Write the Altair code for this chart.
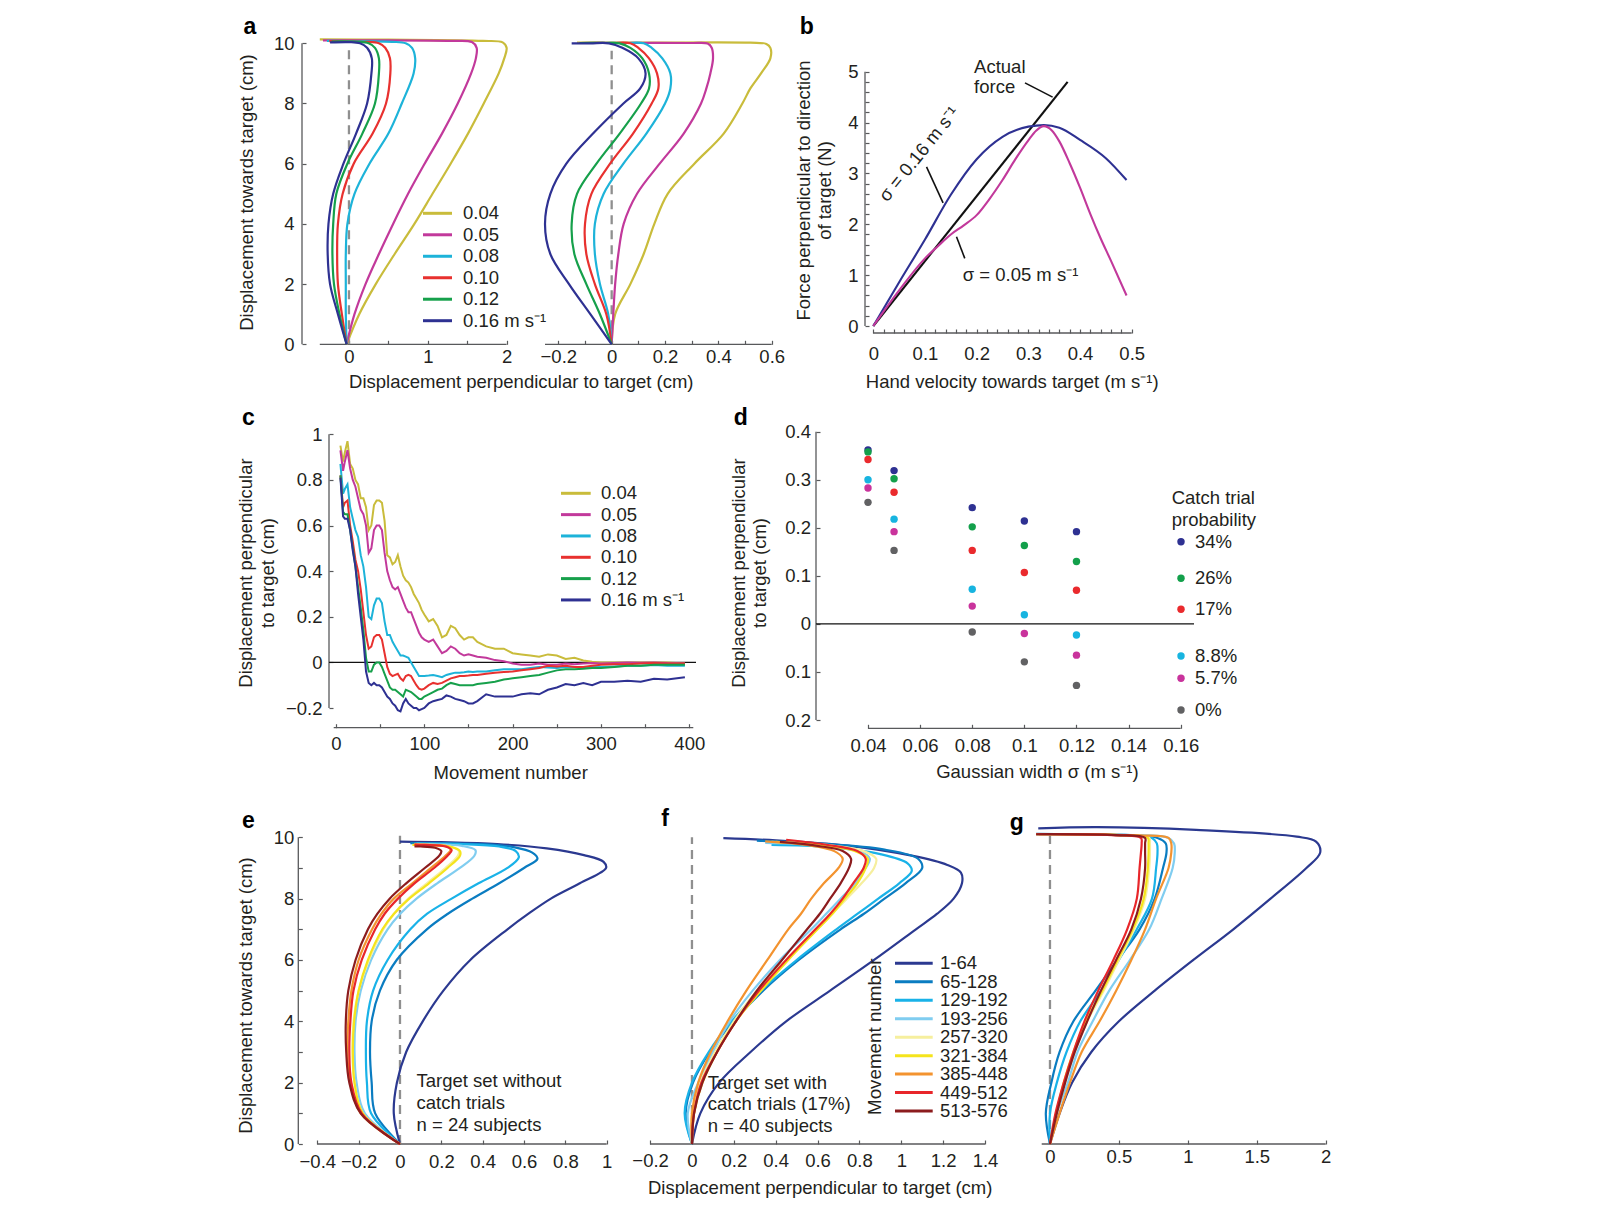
import altair as alt
import pandas as pd

FONT = "Liberation Sans"
INK = "#231f20"
AXC = "#58595b"
DASH = "#8f8f8f"
FS = 18.5
TS = 4
W, H = 1560, 1200
M = 8


def c(v):
    return round(v - M, 2)


# ------------------------------------------------------------------ data
# panel a
A_SERIES = ["0.04", "0.05", "0.08", "0.10", "0.12", "0.16"]
A_LEGEND = ["0.04", "0.05", "0.08", "0.10", "0.12", "0.16 m s⁻¹"]
A_COLORS = ["#c9bc3b", "#c2399b", "#1db3d9", "#e8312f", "#16a04b", "#2e3192"]

AL_LEVELS = [0, 1, 2, 3, 4, 5, 6, 7, 8, 9, 9.5, 9.85]
AL_X = {
    "0.04": [-0.03, 0.13, 0.34, 0.58, 0.83, 1.06, 1.29, 1.51, 1.71, 1.9, 1.97, 2.0],
    "0.05": [-0.03, 0.07, 0.21, 0.38, 0.56, 0.75, 0.96, 1.18, 1.38, 1.55, 1.61, 1.62],
    "0.08": [-0.03, -0.04, -0.04, -0.04, -0.02, 0.07, 0.26, 0.5, 0.67, 0.82, 0.84, 0.8],
    "0.10": [-0.03, -0.09, -0.14, -0.15, -0.14, -0.08, 0.06, 0.3, 0.47, 0.525, 0.52, 0.46],
    "0.12": [-0.03, -0.12, -0.19, -0.21, -0.2, -0.16, -0.02, 0.17, 0.33, 0.38, 0.38, 0.33],
    "0.16": [-0.03, -0.14, -0.24, -0.27, -0.26, -0.2, -0.07, 0.09, 0.23, 0.285, 0.29, 0.23],
}
AL_TOP = {
    "0.04": [(1.95, 10.03), (1.7, 10.08), (0.5, 10.12), (-0.37, 10.13)],
    "0.05": [(1.56, 10.04), (1.3, 10.08), (0.3, 10.1), (-0.33, 10.1)],
    "0.08": [(0.72, 10.0), (0.55, 10.05), (0.2, 10.07), (-0.28, 10.08)],
    "0.10": [(0.38, 10.0), (0.22, 10.05), (0.0, 10.06), (-0.25, 10.07)],
    "0.12": [(0.25, 10.0), (0.1, 10.05), (-0.22, 10.06)],
    "0.16": [(0.14, 10.0), (0.0, 10.04), (-0.24, 10.03)],
}

AR_LEVELS = [0, 1, 2, 3, 4, 5, 6, 7, 8, 8.5, 9, 9.5, 9.85]
AR_X = {
    "0.04": [0, 0.013, 0.07, 0.12, 0.16, 0.21, 0.31, 0.42, 0.49, 0.52, 0.56, 0.595, 0.595],
    "0.05": [0, 0.006, 0.013, 0.025, 0.045, 0.095, 0.18, 0.27, 0.335, 0.355, 0.37, 0.38, 0.375],
    "0.08": [0, -0.013, -0.044, -0.063, -0.063, -0.03, 0.044, 0.13, 0.2, 0.22, 0.22, 0.19, 0.15],
    "0.10": [0, -0.02, -0.063, -0.095, -0.1, -0.076, -0.006, 0.08, 0.15, 0.175, 0.17, 0.14, 0.1],
    "0.12": [0, -0.044, -0.095, -0.14, -0.15, -0.13, -0.057, 0.03, 0.11, 0.14, 0.14, 0.115, 0.07],
    "0.16": [0, -0.08, -0.16, -0.23, -0.25, -0.23, -0.17, -0.07, 0.044, 0.107, 0.127, 0.1, 0.04],
}
AR_TOP = {
    "0.04": [(0.58, 9.98), (0.52, 10.02), (0.1, 10.02), (-0.13, 10.02)],
    "0.05": [(0.36, 9.99), (0.3, 10.01), (-0.1, 10.01)],
    "0.08": [(0.12, 10.0), (0.05, 10.01), (-0.12, 10.01)],
    "0.10": [(0.07, 10.0), (0.0, 10.01), (-0.12, 10.01)],
    "0.12": [(0.03, 10.0), (-0.02, 10.01), (-0.12, 10.01)],
    "0.16": [(-0.01, 10.0), (-0.08, 10.0), (-0.15, 10.0)],
}

# panel b
B_V_16 = [0, 0.05, 0.1, 0.15, 0.2, 0.25, 0.3, 0.33, 0.36, 0.4, 0.45, 0.49]
B_F_16 = [0, 0.86, 1.7, 2.58, 3.28, 3.72, 3.92, 3.95, 3.9, 3.66, 3.3, 2.87]
B_V_05 = [0, 0.05, 0.1, 0.125, 0.15, 0.175, 0.2, 0.225, 0.25, 0.275, 0.3, 0.315,
          0.33, 0.345, 0.36, 0.38, 0.4, 0.42, 0.44, 0.46, 0.49]
B_F_05 = [0, 0.7, 1.33, 1.57, 1.8, 1.98, 2.18, 2.5, 2.87, 3.28, 3.65, 3.84,
          3.93, 3.85, 3.63, 3.2, 2.72, 2.2, 1.72, 1.28, 0.6]
B_V_ACT = [0, 0.376]
B_F_ACT = [0, 4.8]

# panel c
C_X = [5, 8, 10, 13, 16, 19, 22, 25, 28, 31, 34, 37, 40, 43, 46, 49, 52, 55, 58, 61, 64, 67,
       70, 73, 76, 79, 82, 85, 88, 91, 94, 97, 100,
       105, 110, 115, 120, 125, 130, 135, 140, 145, 150, 155, 160,
       170, 180, 190, 200, 210, 220, 230, 240, 250, 260, 270, 280, 290, 300,
       315, 330, 345, 360, 375, 395]
C_Y = {
    "0.04": [0.95, 0.88, 0.92, 0.97, 0.87, 0.85, 0.8, 0.78, 0.72, 0.72, 0.68, 0.58, 0.6, 0.69,
             0.71, 0.71, 0.7, 0.62, 0.47, 0.46, 0.43, 0.44, 0.47, 0.42, 0.38, 0.36, 0.35, 0.33,
             0.3, 0.28, 0.26, 0.23, 0.21,
             0.18, 0.19, 0.16, 0.11, 0.12, 0.16, 0.15, 0.12, 0.1, 0.11, 0.11, 0.09,
             0.07, 0.06, 0.06, 0.04, 0.035, 0.03, 0.025, 0.035, 0.03, 0.015, 0.02, 0.008, 0.003, 0.0,
             0.0, 0.0, 0.0, 0.0, 0.0, -0.005],
    "0.05": [0.93, 0.84, 0.88, 0.93, 0.85, 0.8, 0.77, 0.72, 0.67, 0.65, 0.6, 0.48, 0.5, 0.58,
             0.6, 0.6, 0.58, 0.48, 0.4, 0.36, 0.33, 0.32, 0.33, 0.3, 0.27, 0.24, 0.22, 0.22,
             0.19, 0.16, 0.13, 0.11, 0.1,
             0.09, 0.1, 0.07, 0.04, 0.05, 0.07, 0.06, 0.04, 0.03, 0.035, 0.03, 0.025,
             0.02, 0.01, 0.005, -0.005, -0.01, -0.01, -0.005, -0.01, -0.01, -0.005, -0.008, -0.005, -0.003, -0.005,
             -0.003, 0.0, -0.002, 0.0, -0.003, -0.005],
    "0.08": [0.87, 0.74, 0.76, 0.78, 0.68, 0.63, 0.58, 0.55, 0.47, 0.42, 0.33, 0.2, 0.19, 0.25,
             0.28, 0.28, 0.26, 0.18, 0.12, 0.12, 0.09, 0.07, 0.05, 0.03, 0.03, 0.025, 0.02, 0.0,
             -0.02, -0.04, -0.06, -0.06, -0.06,
             -0.058, -0.055, -0.06, -0.065, -0.055, -0.05, -0.045, -0.045, -0.043, -0.04, -0.042, -0.04,
             -0.04, -0.035, -0.03, -0.03, -0.03, -0.025, -0.02, -0.022, -0.025, -0.02, -0.02, -0.022, -0.02, -0.02,
             -0.018, -0.015, -0.015, -0.012, -0.015, -0.015],
    "0.10": [0.82, 0.68, 0.7, 0.71, 0.6, 0.53, 0.45, 0.4, 0.32, 0.22, 0.12, 0.06, 0.07, 0.11,
             0.12, 0.12, 0.1, 0.04, -0.02, -0.05, -0.06, -0.055, -0.05, -0.07, -0.08, -0.06, -0.055, -0.06,
             -0.08, -0.1, -0.115, -0.12, -0.115,
             -0.1, -0.09, -0.095, -0.09, -0.08, -0.07, -0.065, -0.06, -0.06, -0.058, -0.055, -0.055,
             -0.05, -0.045, -0.042, -0.04, -0.035, -0.03, -0.025, -0.015, -0.018, -0.015, -0.02, -0.02, -0.015, -0.01,
             -0.008, -0.008, -0.005, -0.003, -0.005, -0.005],
    "0.12": [0.82, 0.66, 0.65, 0.65, 0.58, 0.5, 0.42, 0.33, 0.24, 0.14, 0.02, -0.04, -0.04, -0.01,
             0.0, 0.0, -0.02, -0.05, -0.08, -0.11, -0.12, -0.12, -0.13, -0.14, -0.15, -0.12, -0.125, -0.13,
             -0.14, -0.15, -0.16, -0.16, -0.15,
             -0.14, -0.13, -0.12, -0.115, -0.1, -0.09, -0.095, -0.1, -0.1, -0.1, -0.1, -0.095,
             -0.09, -0.085, -0.075, -0.07, -0.065, -0.06, -0.055, -0.045, -0.035, -0.03, -0.03, -0.028, -0.025, -0.025,
             -0.02, -0.015, -0.015, -0.01, -0.01, -0.01],
    "0.16": [0.81, 0.64, 0.63, 0.63, 0.58, 0.49, 0.42, 0.3, 0.2, 0.1, -0.04, -0.09, -0.1, -0.09,
             -0.1, -0.1, -0.11, -0.13, -0.15, -0.16, -0.18, -0.19, -0.21, -0.215, -0.18, -0.16, -0.18, -0.19,
             -0.2, -0.2, -0.21, -0.205, -0.2,
             -0.18, -0.17, -0.165, -0.16, -0.145, -0.15, -0.16, -0.165, -0.17, -0.18, -0.18, -0.17,
             -0.14, -0.15, -0.15, -0.15, -0.14, -0.135, -0.14, -0.12, -0.11, -0.095, -0.1, -0.09, -0.1, -0.085,
             -0.085, -0.08, -0.085, -0.072, -0.075, -0.065],
}

# panel d
D_SIGMA = [0.04, 0.05, 0.08, 0.10, 0.12]
D_PROBS = ["34%", "26%", "17%", "8.8%", "5.7%", "0%"]
D_COLORS = ["#2e3192", "#13a04b", "#ea2a2d", "#17b4e0", "#c9339c", "#616163"]
D_Y = {
    "34%": [0.362, 0.319, 0.242, 0.214, 0.192],
    "26%": [0.358, 0.302, 0.202, 0.163, 0.130],
    "17%": [0.342, 0.274, 0.153, 0.107, 0.070],
    "8.8%": [0.300, 0.218, 0.072, 0.019, -0.023],
    "5.7%": [0.283, 0.192, 0.037, -0.020, -0.065],
    "0%": [0.253, 0.153, -0.017, -0.079, -0.128],
}

# panels e, f, g
MV = ["1-64", "65-128", "129-192", "193-256", "257-320", "321-384", "385-448", "449-512", "513-576"]
MV_COLORS = ["#2b3990", "#0a7cc1", "#19b2e8", "#80cdf0", "#f6ef9e", "#f5e41c", "#f3932f", "#e8262a", "#8c1c1e"]

E_LEVELS = [0, 1, 2, 3, 4, 5, 6, 7, 7.5, 8, 8.5, 9]
E_X = {
    "1-64": [0, -0.03, -0.015, 0.03, 0.11, 0.21, 0.34, 0.52, 0.62, 0.73, 0.87, 0.997],
    "65-128": [0, -0.12, -0.137, -0.145, -0.137, -0.097, -0.016, 0.13, 0.23, 0.35, 0.48, 0.6],
    "129-192": [0, -0.14, -0.16, -0.165, -0.16, -0.13, -0.06, 0.05, 0.13, 0.25, 0.38, 0.52],
    "193-256": [0, -0.17, -0.21, -0.22, -0.215, -0.19, -0.14, -0.06, 0.0, 0.08, 0.18, 0.29],
    "257-320": [0, -0.18, -0.22, -0.23, -0.225, -0.2, -0.15, -0.08, -0.03, 0.04, 0.13, 0.22],
    "321-384": [0, -0.18, -0.22, -0.228, -0.222, -0.2, -0.155, -0.085, -0.03, 0.045, 0.14, 0.23],
    "385-448": [0, -0.19, -0.24, -0.255, -0.25, -0.235, -0.2, -0.135, -0.09, -0.03, 0.06, 0.15],
    "449-512": [0, -0.185, -0.235, -0.245, -0.24, -0.225, -0.185, -0.12, -0.075, -0.01, 0.07, 0.165],
    "513-576": [0, -0.19, -0.245, -0.26, -0.262, -0.25, -0.215, -0.155, -0.11, -0.05, 0.03, 0.12],
}
E_TOP = {
    "1-64": [(0.985, 9.2), (0.89, 9.42), (0.71, 9.64), (0.47, 9.78), (0.2, 9.84), (0.0, 9.86)],
    "65-128": [(0.665, 9.3), (0.64, 9.5), (0.55, 9.68), (0.4, 9.78), (0.2, 9.8), (0.05, 9.81)],
    "129-192": [(0.575, 9.35), (0.56, 9.55), (0.48, 9.7), (0.3, 9.78), (0.08, 9.8)],
    "193-256": [(0.36, 9.4), (0.365, 9.58), (0.3, 9.72), (0.15, 9.78), (0.07, 9.79)],
    "257-320": [(0.28, 9.4), (0.285, 9.55), (0.24, 9.7), (0.12, 9.76), (0.07, 9.77)],
    "321-384": [(0.29, 9.4), (0.29, 9.55), (0.25, 9.68), (0.12, 9.74), (0.06, 9.75)],
    "385-448": [(0.22, 9.4), (0.245, 9.6), (0.22, 9.72), (0.12, 9.76), (0.07, 9.77)],
    "449-512": [(0.23, 9.4), (0.25, 9.58), (0.22, 9.7), (0.12, 9.75), (0.07, 9.76)],
    "513-576": [(0.19, 9.4), (0.2, 9.55), (0.17, 9.66), (0.1, 9.7), (0.07, 9.7)],
}

F_LEVELS = [0, 1, 2, 3, 4, 5, 6, 7, 7.5, 8, 8.5]
F_X = {
    "1-64": [0, 0.04, 0.13, 0.28, 0.45, 0.66, 0.87, 1.07, 1.17, 1.25, 1.29],
    "65-128": [0, -0.03, 0.005, 0.085, 0.2, 0.34, 0.51, 0.71, 0.82, 0.92, 1.02],
    "129-192": [0, -0.035, 0.0, 0.08, 0.19, 0.33, 0.5, 0.69, 0.79, 0.89, 0.99],
    "193-256": [0, -0.02, 0.03, 0.1, 0.18, 0.29, 0.42, 0.57, 0.64, 0.71, 0.78],
    "257-320": [0, 0.0, 0.04, 0.11, 0.2, 0.31, 0.45, 0.6, 0.67, 0.74, 0.81],
    "321-384": [0, 0.01, 0.05, 0.12, 0.21, 0.33, 0.46, 0.6, 0.67, 0.73, 0.79],
    "385-448": [0, 0.0, 0.03, 0.09, 0.17, 0.26, 0.36, 0.46, 0.52, 0.57, 0.63],
    "449-512": [0, 0.01, 0.045, 0.12, 0.21, 0.32, 0.45, 0.59, 0.66, 0.72, 0.77],
    "513-576": [0, 0.01, 0.05, 0.12, 0.21, 0.31, 0.43, 0.55, 0.61, 0.66, 0.71],
}
F_TOP = {
    "1-64": [(1.285, 8.85), (1.22, 9.1), (1.05, 9.4), (0.75, 9.72), (0.4, 9.9), (0.15, 9.97)],
    "65-128": [(1.1, 9.0), (1.08, 9.3), (0.92, 9.6), (0.6, 9.8), (0.31, 9.89)],
    "129-192": [(1.05, 8.9), (1.03, 9.15), (0.9, 9.45), (0.65, 9.68), (0.38, 9.75)],
    "193-256": [(0.83, 9.0), (0.85, 9.3), (0.8, 9.55), (0.6, 9.75), (0.35, 9.82)],
    "257-320": [(0.87, 9.0), (0.88, 9.3), (0.82, 9.55), (0.6, 9.78), (0.38, 9.85)],
    "321-384": [(0.83, 9.0), (0.84, 9.3), (0.78, 9.55), (0.6, 9.75), (0.4, 9.85)],
    "385-448": [(0.7, 9.0), (0.72, 9.3), (0.68, 9.55), (0.55, 9.75), (0.35, 9.87)],
    "449-512": [(0.82, 9.0), (0.83, 9.3), (0.79, 9.55), (0.65, 9.75), (0.45, 9.92)],
    "513-576": [(0.75, 9.0), (0.76, 9.3), (0.72, 9.55), (0.6, 9.72), (0.42, 9.85)],
}

G_LEVELS = [0, 1, 2, 3, 4, 5, 6, 7, 8, 9, 9.5]
G_X = {
    "1-64": [0, 0.07, 0.16, 0.3, 0.5, 0.76, 1.04, 1.33, 1.6, 1.86, 1.96],
    "65-128": [0, -0.03, 0.01, 0.07, 0.17, 0.33, 0.49, 0.65, 0.76, 0.82, 0.845],
    "129-192": [0, 0.0, 0.05, 0.12, 0.22, 0.37, 0.5, 0.63, 0.74, 0.77, 0.78],
    "193-256": [0, 0.05, 0.13, 0.2, 0.31, 0.43, 0.58, 0.72, 0.81, 0.89, 0.905],
    "257-320": [0, 0.05, 0.11, 0.18, 0.27, 0.39, 0.5, 0.61, 0.69, 0.72, 0.725],
    "321-384": [0, 0.045, 0.1, 0.17, 0.26, 0.38, 0.49, 0.6, 0.68, 0.71, 0.715],
    "385-448": [0, 0.07, 0.145, 0.23, 0.36, 0.48, 0.59, 0.69, 0.77, 0.86, 0.88],
    "449-512": [0, 0.04, 0.1, 0.17, 0.25, 0.35, 0.46, 0.56, 0.63, 0.65, 0.66],
    "513-576": [0, 0.05, 0.11, 0.18, 0.27, 0.37, 0.48, 0.59, 0.66, 0.69, 0.69],
}
G_TOP = {
    "1-64": [(1.93, 9.86), (1.79, 10.02), (1.06, 10.24), (0.34, 10.33), (-0.085, 10.29)],
    "65-128": [(0.84, 9.8), (0.78, 9.98), (0.6, 10.07), (0.1, 10.1), (-0.1, 10.11)],
    "129-192": [(0.775, 9.8), (0.74, 9.98), (0.5, 10.07), (-0.1, 10.1)],
    "193-256": [(0.9, 9.8), (0.86, 9.98), (0.6, 10.07), (-0.1, 10.1)],
    "257-320": [(0.725, 9.8), (0.72, 9.98), (0.5, 10.07), (-0.1, 10.1)],
    "321-384": [(0.715, 9.8), (0.71, 9.98), (0.5, 10.07), (-0.1, 10.1)],
    "385-448": [(0.88, 9.8), (0.86, 9.98), (0.65, 10.06), (-0.08, 10.1)],
    "449-512": [(0.665, 9.8), (0.66, 9.98), (0.45, 10.07), (-0.1, 10.1)],
    "513-576": [(0.69, 9.8), (0.69, 9.98), (0.48, 10.07), (-0.1, 10.1)],
}

# ------------------------------------------------------------------ layout (reference page pixels)
GEO = {
    "aL": dict(xr=(319.8, 506.6), yr=(344.3, 43.3), yax=302.0, xax=344.3),
    "aR": dict(xr=(545.0, 771.7), yr=(344.3, 43.3), yax=None, xax=344.3),
    "b": dict(xr=(873.3, 1131.7), yr=(326.0, 71.7), yax=865.0, xax=333.0),
    "c": dict(xr=(336.0, 689.3), yr=(708.0, 434.3), yax=329.0, xax=727.7),
    "d": dict(xr=(868.0, 1180.7), yr=(720.0, 431.7), yax=816.0, xax=728.3),
    "e": dict(xr=(317.3, 606.7), yr=(1144.0, 837.3), yax=298.3, xax=1144.0),
    "f": dict(xr=(650.1, 985.0), yr=(1144.0, 837.3), yax=None, xax=1144.0),
    "g": dict(xr=(1041.7, 1325.7), yr=(1144.0, 837.3), yax=None, xax=1144.0),
}


def sx(p, dom):
    g = GEO[p]
    return alt.Scale(domain=dom, range=[c(g["xr"][0]), c(g["xr"][1])], nice=False, zero=False)


def sy(p, dom):
    g = GEO[p]
    return alt.Scale(domain=dom, range=[c(g["yr"][0]), c(g["yr"][1])], nice=False, zero=False)


def lab_expr(step, absval=False):
    v = "abs(datum.value)" if absval else "datum.value"
    if step is None:
        return f"format({v}, '~g')"
    return f"abs(datum.value/{step} - round(datum.value/{step})) < 0.000001 ? format({v}, '~g') : ''"


def x_axis(p, values, step, lp, title=None, tx=None, ty=None):
    g = GEO[p]
    pos = c(g["xax"]) - TS
    kw = dict(orient="bottom", offset=round(pos - H, 2), values=values, tickSize=TS,
              labelPadding=lp, labelExpr=lab_expr(step))
    if title is None:
        kw["title"] = None
    else:
        kw.update(title=title, titleX=c(tx), titleY=round(c(ty) - pos, 2), titleAlign="center",
                  titleBaseline="middle", titleAngle=0)
    return alt.Axis(**kw)


def y_axis(p, values, step, lp, title, tx, ty, absval=False, lh=None):
    g = GEO[p]
    pos = c(g["yax"]) + TS
    kw = dict(orient="left", offset=-pos, values=values, tickSize=TS, labelPadding=lp,
              labelExpr=lab_expr(step, absval), title=title, titleX=round(c(tx) - pos, 2),
              titleY=c(ty), titleAngle=270, titleAlign="center", titleBaseline="middle")
    if lh:
        kw["titleLineHeight"] = lh
    return alt.Axis(**kw)


def path_frame(levels, bodies, tops, names, colors):
    rows = []
    for k, name in enumerate(names):
        pts = list(zip(bodies[name], levels)) + list(tops[name])
        for i, (x, y) in enumerate(pts):
            rows.append(dict(s=name, color=colors[k], k=k, i=i, x=x, y=y))
    return pd.DataFrame(rows)


def path_lines(df, xsc, ysc, xax, yax, width=2.2, interp="catmull-rom"):
    return alt.Chart(df).mark_line(interpolate=interp, strokeWidth=width).encode(
        x=alt.X("x:Q", scale=xsc, axis=xax),
        y=alt.Y("y:Q", scale=ysc, axis=yax),
        color=alt.Color("color:N", scale=None),
        detail="s:N",
        order="i:Q",
    )


def zero_dash(xsc, ysc, top, xax, yax):
    d = pd.DataFrame({"x": [0.0], "y0": [0.0], "y1": [top]})
    return alt.Chart(d).mark_rule(color=DASH, strokeWidth=2.3, strokeDash=[9, 6]).encode(
        x=alt.X("x:Q", scale=xsc, axis=xax),
        y=alt.Y("y0:Q", scale=ysc, axis=yax),
        y2="y1:Q",
    )


ONE = pd.DataFrame({"k": [0]})


def axis_lines(p, xext=None):
    g = GEO[p]
    out = []
    if g["yax"] is not None:
        out.append(alt.Chart(ONE).mark_rule(color=AXC, strokeWidth=1.3).encode(
            x=alt.value(c(g["yax"])), y=alt.value(c(g["yr"][0])), y2=alt.value(c(g["yr"][1]))))
    x0, x1 = xext if xext else g["xr"]
    out.append(alt.Chart(ONE).mark_rule(color=AXC, strokeWidth=1.3).encode(
        x=alt.value(c(x0)), x2=alt.value(c(x1)), y=alt.value(c(g["xax"]))))
    return out


def line_legend(labels, colors, x0, x1, xt, y0, dy, fs=FS):
    df = pd.DataFrame({"label": labels, "color": colors,
                       "py": [c(y0 + i * dy) for i in range(len(labels))]})
    sw = alt.Chart(df).mark_rule(strokeWidth=3).encode(
        x=alt.value(c(x0)), x2=alt.value(c(x1)),
        y=alt.Y("py:Q", scale=None, axis=None), color=alt.Color("color:N", scale=None))
    tx = alt.Chart(df).mark_text(align="left", baseline="middle", font=FONT, fontSize=fs, color=INK).encode(
        x=alt.value(c(xt)), y=alt.Y("py:Q", scale=None, axis=None), text="label:N")
    return [sw, tx]


def letter(t, x, y):
    return alt.Chart(pd.DataFrame({"t": [t]})).mark_text(
        font=FONT, fontSize=23, fontWeight="bold", color="#000", align="center", baseline="middle"
    ).encode(x=alt.value(c(x)), y=alt.value(c(y)), text="t:N")


layers = []

# ------------------------------------------------------------------ panel a (left)
XAL = sx("aL", [-0.37, 2.0])
YA = sy("aL", [0, 10])
XAL_AX = x_axis("aL", [0, 0.5, 1, 1.5, 2], 1, 3, "Displacement perpendicular to target (cm)", 520.8, 381)
YA_AX = y_axis("aL", [0, 2, 4, 6, 8, 10], None, 8, "Displacement towards target (cm)", 246.7, 192)
layers += axis_lines("aL")
layers.append(alt.layer(
    zero_dash(XAL, YA, 9.8, XAL_AX, YA_AX),
    path_lines(path_frame(AL_LEVELS, AL_X, AL_TOP, A_SERIES, A_COLORS), XAL, YA, XAL_AX, YA_AX),
))
layers += line_legend(A_LEGEND, A_COLORS, 423, 452, 463, 213.3, 21.48)

# ------------------------------------------------------------------ panel a (right)
XAR = sx("aR", [-0.25, 0.6])
YAR = sy("aR", [0, 10])
XAR_AX = x_axis("aR", [round(-0.2 + 0.1 * i, 2) for i in range(9)], 0.2, 3)
layers += axis_lines("aR")
layers.append(alt.layer(
    zero_dash(XAR, YAR, 9.75, XAR_AX, None),
    path_lines(path_frame(AR_LEVELS, AR_X, AR_TOP, A_SERIES, A_COLORS), XAR, YAR, XAR_AX, None),
))

# ------------------------------------------------------------------ panel b
XB = sx("b", [0, 0.5])
YB = sy("b", [0, 5])
XB_AX = x_axis("b", [round(0.02 * i, 2) for i in range(26)], 0.1, 11.5,
               "Hand velocity towards target (m s⁻¹)", 1011.7, 381)
YB_AX = y_axis("b", [round(0.2 * i, 1) for i in range(26)], 1, 7,
               ["Force perpendicular to direction", "of target (N)"], 803.5, 190, lh=21)
layers += axis_lines("b")
b_rows = ([dict(v=v, f=f, s="act", color="#111111", i=i) for i, (v, f) in enumerate(zip(B_V_ACT, B_F_ACT))]
          + [dict(v=v, f=f, s="s16", color="#2e3192", i=i) for i, (v, f) in enumerate(zip(B_V_16, B_F_16))]
          + [dict(v=v, f=f, s="s05", color="#c2399b", i=i) for i, (v, f) in enumerate(zip(B_V_05, B_F_05))])
b_df = pd.DataFrame(b_rows)
b_lines = alt.Chart(b_df).mark_line(interpolate="monotone", strokeWidth=2.1).encode(
    x=alt.X("v:Q", scale=XB, axis=XB_AX),
    y=alt.Y("f:Q", scale=YB, axis=YB_AX),
    color=alt.Color("color:N", scale=None), detail="s:N", order="i:Q")
b_ptr = pd.DataFrame({"x": [0.2935, 0.103, 0.161], "y": [4.78, 3.13, 1.756],
                      "x2": [0.347, 0.135, 0.177], "y2": [4.5, 2.42, 1.33]})
b_ptr_chart = alt.Chart(b_ptr).mark_rule(color="#111111", strokeWidth=1.6).encode(
    x=alt.X("x:Q", scale=XB, axis=XB_AX), y=alt.Y("y:Q", scale=YB, axis=YB_AX), x2="x2:Q", y2="y2:Q")
b_txt = pd.DataFrame({"x": [0.195, 0.195, 0.173], "y": [5.1, 4.69, 1.0],
                      "t": ["Actual", "force", "σ = 0.05 m s⁻¹"]})
b_txt_chart = alt.Chart(b_txt).mark_text(align="left", baseline="middle", font=FONT, fontSize=FS, color=INK).encode(
    x=alt.X("x:Q", scale=XB, axis=XB_AX), y=alt.Y("y:Q", scale=YB, axis=YB_AX), text="t:N")
b_rot = pd.DataFrame({"x": [0.0884], "y": [3.38], "t": ["σ = 0.16 m s⁻¹"]})
b_rot_chart = alt.Chart(b_rot).mark_text(align="center", baseline="middle", angle=309, font=FONT,
                                         fontSize=FS, color=INK).encode(
    x=alt.X("x:Q", scale=XB, axis=XB_AX), y=alt.Y("y:Q", scale=YB, axis=YB_AX), text="t:N")
layers.append(alt.layer(b_lines, b_ptr_chart, b_txt_chart, b_rot_chart))

# ------------------------------------------------------------------ panel c
XC = sx("c", [0, 400])
YC = sy("c", [-0.2, 1])
XC_AX = x_axis("c", [50 * i for i in range(9)], 100, 7, "Movement number", 510.2, 772.5)
YC_AX = y_axis("c", [round(-0.2 + 0.2 * i, 1) for i in range(7)], None, 7,
               ["Displacement perpendicular", "to target (cm)"], 245.5, 572.5, lh=21.5)
layers += axis_lines("c", xext=(333.7, 693.3))
c_rows = []
for k, name in enumerate(A_SERIES):
    for i, (x, y) in enumerate(zip(C_X, C_Y[name])):
        c_rows.append(dict(s=name, color=A_COLORS[k], i=i, x=x, y=y))
c_df = pd.DataFrame(c_rows)
c_zero = alt.Chart(ONE).mark_rule(color="#111111", strokeWidth=1.3).encode(
    x=alt.value(c(329.0)), x2=alt.value(c(696.0)), y=alt.Y(datum=0, scale=YC, axis=YC_AX))
c_lines = path_lines(c_df, XC, YC, XC_AX, YC_AX, width=2.0, interp="linear")
layers.append(alt.layer(c_zero, c_lines))
layers += line_legend(A_LEGEND, A_COLORS, 561, 590.7, 601, 493.3, 21.33)

# ------------------------------------------------------------------ panel d
XD = sx("d", [0.04, 0.16])
YD = sy("d", [-0.2, 0.4])
XD_AX = x_axis("d", [round(0.04 + 0.02 * i, 2) for i in range(7)], None, 8,
               "Gaussian width σ (m s⁻¹)", 1036.9, 771.5)
YD_AX = y_axis("d", [round(-0.2 + 0.1 * i, 1) for i in range(7)], None, 5.5,
               ["Displacement perpendicular", "to target (cm)"], 738.0, 572.5, absval=True, lh=21.5)
layers += axis_lines("d")
d_rows = []
for k, name in enumerate(D_PROBS):
    for x, y in zip(D_SIGMA, D_Y[name]):
        d_rows.append(dict(p=name, color=D_COLORS[k], x=x, y=y))
d_df = pd.DataFrame(d_rows)
d_zero = alt.Chart(ONE).mark_rule(color="#111111", strokeWidth=1.3).encode(
    x=alt.value(c(816.0)), x2=alt.value(c(1194.0)), y=alt.Y(datum=0, scale=YD, axis=YD_AX))
d_pts = alt.Chart(d_df).mark_circle(size=55, opacity=1).encode(
    x=alt.X("x:Q", scale=XD, axis=XD_AX),
    y=alt.Y("y:Q", scale=YD, axis=YD_AX),
    color=alt.Color("color:N", scale=None))
layers.append(alt.layer(d_zero, d_pts))
D_LEG_Y = [541.7, 578.3, 609.3, 656.0, 678.3, 710.0]
d_leg = pd.DataFrame({"label": D_PROBS, "color": D_COLORS, "py": [c(v) for v in D_LEG_Y]})
layers.append(alt.Chart(d_leg).mark_circle(size=55, opacity=1).encode(
    x=alt.value(c(1181)), y=alt.Y("py:Q", scale=None, axis=None), color=alt.Color("color:N", scale=None)))
layers.append(alt.Chart(d_leg).mark_text(align="left", baseline="middle", font=FONT, fontSize=FS, color=INK).encode(
    x=alt.value(c(1195)), y=alt.Y("py:Q", scale=None, axis=None), text="label:N"))
d_title = pd.DataFrame({"t": ["Catch trial", "probability"], "py": [c(498.3), c(520.0)]})
layers.append(alt.Chart(d_title).mark_text(align="left", baseline="middle", font=FONT, fontSize=FS, color=INK).encode(
    x=alt.value(c(1171.7)), y=alt.Y("py:Q", scale=None, axis=None), text="t:N"))

# ------------------------------------------------------------------ panels e, f, g
YE = sy("e", [0, 10])
XE = sx("e", [-0.4, 1.0])
XE_AX = x_axis("e", [round(-0.4 + 0.2 * i, 1) for i in range(8)], None, 8.3)
YE_AX = y_axis("e", list(range(11)), 2, 4.5, "Displacement towards target (cm)", 246.0, 995.0)
layers += axis_lines("e")
layers.append(alt.layer(
    zero_dash(XE, YE, 10.05, XE_AX, YE_AX),
    path_lines(path_frame(E_LEVELS, E_X, E_TOP, MV, MV_COLORS), XE, YE, XE_AX, YE_AX),
))
e_note = pd.DataFrame({"t": ["Target set without", "catch trials", "n = 24 subjects"],
                       "x": [0.08, 0.08, 0.08], "y": [2.05, 1.35, 0.63]})
layers.append(alt.Chart(e_note).mark_text(align="left", baseline="middle", font=FONT, fontSize=FS, color=INK).encode(
    x=alt.X("x:Q", scale=XE, axis=None), y=alt.Y("y:Q", scale=YE, axis=None), text="t:N"))

YF = sy("f", [0, 10])
XF = sx("f", [-0.2, 1.4])
XF_AX = x_axis("f", [round(-0.2 + 0.2 * i, 1) for i in range(9)], None, 7.7,
               "Displacement perpendicular to target (cm)", 819.7, 1187.0)
layers += axis_lines("f")
layers.append(alt.layer(
    zero_dash(XF, YF, 10.0, XF_AX, None),
    path_lines(path_frame(F_LEVELS, F_X, F_TOP, MV, MV_COLORS), XF, YF, XF_AX, None),
))
f_note = pd.DataFrame({"t": ["Target set with", "catch trials (17%)", "n = 40 subjects"],
                       "x": [0.075, 0.075, 0.075], "y": [2.0, 1.3, 0.6]})
layers.append(alt.Chart(f_note).mark_text(align="left", baseline="middle", font=FONT, fontSize=FS, color=INK).encode(
    x=alt.X("x:Q", scale=XF, axis=None), y=alt.Y("y:Q", scale=YF, axis=None), text="t:N"))
layers += line_legend(MV, MV_COLORS, 895, 932.7, 940, 963.3, 18.47)
layers.append(alt.Chart(pd.DataFrame({"t": ["Movement number"]})).mark_text(
    align="center", baseline="middle", angle=270, font=FONT, fontSize=18.8, color=INK).encode(
    x=alt.value(c(875)), y=alt.value(c(1036.7)), text="t:N"))

YG = sy("g", [0, 10])
XG = sx("g", [-0.06, 2.0])
XG_AX = x_axis("g", [0, 0.5, 1, 1.5, 2], None, 3.3)
layers += axis_lines("g")
layers.append(alt.layer(
    zero_dash(XG, YG, 10.1, XG_AX, None),
    path_lines(path_frame(G_LEVELS, G_X, G_TOP, MV, MV_COLORS), XG, YG, XG_AX, None),
))

# ------------------------------------------------------------------ panel letters
for t, x, y in [("a", 250, 26.7), ("b", 806.7, 26.7), ("c", 248.3, 418.3), ("d", 740.7, 418.3),
                ("e", 248.3, 820.7), ("f", 665, 819.3), ("g", 1016.7, 822.7)]:
    layers.append(letter(t, x, y))

chart = alt.layer(*layers).resolve_scale(
    x="independent", y="independent"
).properties(
    width=W, height=H, padding=0
).configure_view(
    stroke=None
).configure_axis(
    domain=False, grid=False, labelFont=FONT, labelFontSize=FS, labelColor=INK,
    titleFont=FONT, titleFontSize=FS, titleFontWeight="normal", titleColor=INK,
    tickColor=AXC, tickWidth=1.2, labelFlush=False, labelOverlap=False, titleLimit=1000
)

chart.save("out.html", embed_options={"renderer": "svg", "actions": False})
